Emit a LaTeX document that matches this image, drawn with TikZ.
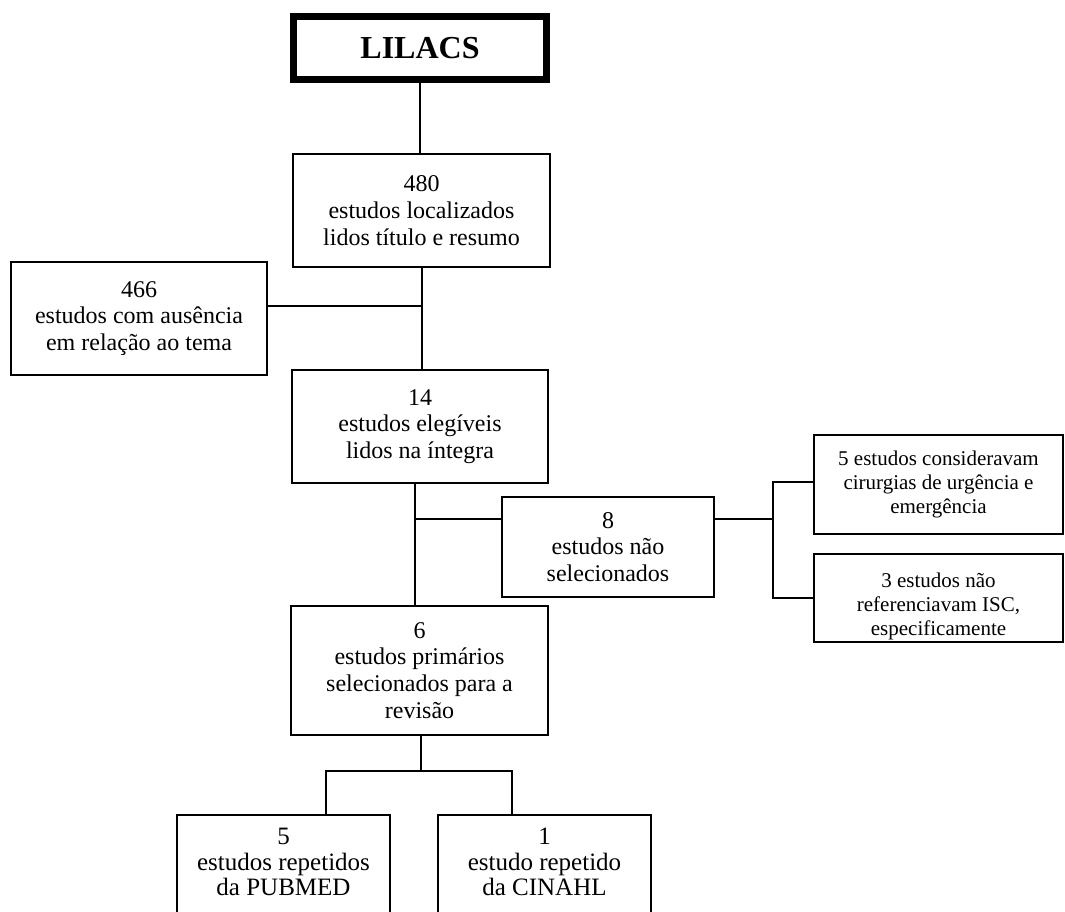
\documentclass[tikz,border=0pt]{standalone}
\usepackage{fontspec}
\setmainfont{Liberation Serif}
\begin{document}
\begin{tikzpicture}[x=1pt,y=-1pt,
  box/.style={draw=black,line width=2pt,fill=white,inner sep=0pt,align=center,
    font=\fontsize{24}{26.7}\selectfont},
  sidebox/.style={box,font=\fontsize{21}{24}\selectfont},
  lowbox/.style={box,font=\fontsize{25}{25.5}\selectfont},
  txt/.style={inner sep=0pt,align=center},
  conn/.style={line width=2pt}]
\clip (0,0) rectangle (1065,911);
\fill[white] (0,0) rectangle (1065,911);
% nodes
\node[draw=black,line width=7pt,inner sep=0pt,minimum width=253pt,minimum height=63pt,
  font=\fontsize{32}{36}\selectfont\bfseries] (lilacs) at (420,48) {LILACS};
\node[box,minimum width=257pt,minimum height=113pt] (n480) at (421.5,210.5)
  {480\\estudos localizados\\lidos título e resumo};
\node[box,minimum width=256pt,minimum height=113pt] (n466) at (139,318.5)
  {466\\estudos com ausência\\em relação ao tema};
\node[box,minimum width=256pt,minimum height=113pt] (n14) at (420,426.5)
  {14\\estudos elegíveis\\lidos na íntegra};
\node[box,minimum width=212pt,minimum height=100pt] (n8) at (608,547)
  {8\\estudos não\\selecionados};
\node[sidebox,minimum width=249pt,minimum height=99pt] (nr1) at (938.5,484.5)
  {5 estudos consideravam\\cirurgias de urgência e\\emergência};
\node[sidebox,minimum width=249pt,minimum height=88pt] (nr2) at (938.5,598) {};
\node[sidebox,txt,draw=none,fill=none] (nr2t) at (938.5,606)
  {3 estudos não\\referenciavam ISC,\\especificamente};
\node[box,minimum width=257pt,minimum height=129pt] (n6) at (419.5,670.5)
  {6\\estudos primários\\selecionados para a\\revisão};
\node[lowbox,minimum width=213pt,minimum height=115pt] (npub) at (283.5,872.5) {};
\node[lowbox,txt,draw=none,fill=none] (npubt) at (283.5,862)
  {5\\estudos repetidos\\da PUBMED};
\node[lowbox,minimum width=213pt,minimum height=115pt] (ncin) at (544.5,872.5) {};
\node[lowbox,txt,draw=none,fill=none] (ncint) at (544.5,862)
  {1\\estudo repetido\\da CINAHL};
% junctions
\coordinate (j1) at (415,519);
\coordinate (j2) at (773,519);
\coordinate (j3) at (421,771);
% connectors
\draw[conn] (lilacs.south) -- (lilacs.south |- n480.north);
\draw[conn] (n480.south) -- (n480.south |- n14.north);
\draw[conn] ([yshift=12.5pt]n466.east) -- ([yshift=12.5pt]n466.east -| n480.south);
\draw[conn] ([xshift=-5pt]n14.south) -- ([xshift=-5pt]n14.south |- n6.north);
\draw[conn] (j1) -- ([yshift=28pt]n8.west);
\draw[conn] ([yshift=28pt]n8.east) -- (j2);
\draw[conn] ([yshift=2.5pt]nr1.west) -| (j2) |- (nr2.west);
\draw[conn] (n6.south -| j3) -- (j3);
\draw[conn] ([xshift=42.5pt]npub.north) |- (j3) -| ([xshift=-32.5pt]ncin.north);
\end{tikzpicture}
\end{document}
